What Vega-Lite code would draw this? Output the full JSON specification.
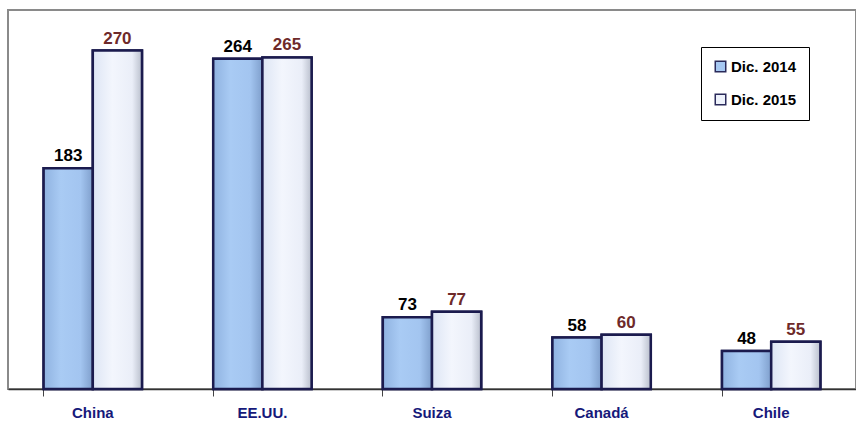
{
  "$schema": "https://vega.github.io/schema/vega-lite/v6.json",
  "width": 848,
  "height": 379,
  "autosize": {"type": "none"},
  "padding": {"left": 8, "top": 10, "right": 0, "bottom": 32},
  "background": "white",
  "config": {
    "view": {"stroke": "#8a8a8a", "strokeWidth": 2},
    "font": "Liberation Sans"
  },
  "data": {
    "values": [
      {"pais": "China", "serie": "Dic. 2014", "valor": 183},
      {"pais": "China", "serie": "Dic. 2015", "valor": 270},
      {"pais": "EE.UU.", "serie": "Dic. 2014", "valor": 264},
      {"pais": "EE.UU.", "serie": "Dic. 2015", "valor": 265},
      {"pais": "Suiza", "serie": "Dic. 2014", "valor": 73},
      {"pais": "Suiza", "serie": "Dic. 2015", "valor": 77},
      {"pais": "Canadá", "serie": "Dic. 2014", "valor": 58},
      {"pais": "Canadá", "serie": "Dic. 2015", "valor": 60},
      {"pais": "Chile", "serie": "Dic. 2014", "valor": 48},
      {"pais": "Chile", "serie": "Dic. 2015", "valor": 55}
    ]
  },
  "encoding": {
    "x": {
      "field": "pais",
      "type": "nominal",
      "sort": null,
      "scale": {"paddingInner": 0.42, "paddingOuter": 0.21},
      "axis": {
        "title": null,
        "labelAngle": 0,
        "labelFont": "Liberation Sans",
        "labelFontSize": 15,
        "labelFontWeight": "bold",
        "labelColor": "#16197a",
        "labelPadding": 9,
        "bandPosition": 0,
        "tickSize": 7,
        "tickColor": "#444444",
        "domainColor": "#333333",
        "domainWidth": 1.5
      }
    },
    "xOffset": {"field": "serie", "type": "nominal", "scale": {"paddingInner": 0, "paddingOuter": 0}},
    "y": {
      "field": "valor",
      "type": "quantitative",
      "scale": {"domain": [20, 300], "zero": false, "nice": false},
      "axis": null
    },
    "y2": {"datum": 20}
  },
  "layer": [
    {
      "mark": {"type": "bar", "stroke": "#1b1b4e", "strokeWidth": 2.5},
      "encoding": {
        "color": {
          "field": "serie",
          "type": "nominal",
          "scale": {"domain": ["Dic. 2014", "Dic. 2015"], "range": ["#a6c8f2", "#eef2fb"]},
          "legend": {
            "title": null,
            "orient": "none",
            "legendX": 693,
            "legendY": 37,
            "padding": 12,
            "strokeColor": "#000000",
            "fillColor": "white",
            "labelFont": "Liberation Sans",
            "labelFontSize": 15,
            "labelFontWeight": "bold",
            "labelColor": "#000000",
            "symbolType": "square",
            "symbolSize": 110,
            "symbolStrokeColor": "#2a2a5a",
            "symbolStrokeWidth": 1.5,
            "rowPadding": 16,
            "labelOffset": 3
          }
        }
      }
    },
    {
      "transform": [{"filter": "datum.serie == 'Dic. 2014'"}],
      "mark": {
        "type": "bar",
        "stroke": "#1b1b4e",
        "strokeWidth": 2.5,
        "color": {
          "gradient": "linear", "x1": 0, "y1": 0, "x2": 1, "y2": 0,
          "stops": [
            {"offset": 0, "color": "#8fb2e0"},
            {"offset": 0.35, "color": "#a9cbf4"},
            {"offset": 0.75, "color": "#a3c5f0"},
            {"offset": 1, "color": "#7f9fcc"}
          ]
        }
      }
    },
    {
      "transform": [{"filter": "datum.serie == 'Dic. 2015'"}],
      "mark": {
        "type": "bar",
        "stroke": "#1b1b4e",
        "strokeWidth": 2.5,
        "color": {
          "gradient": "linear", "x1": 0, "y1": 0, "x2": 1, "y2": 0,
          "stops": [
            {"offset": 0, "color": "#dde5f4"},
            {"offset": 0.4, "color": "#f3f6fd"},
            {"offset": 0.8, "color": "#eaeef8"},
            {"offset": 1, "color": "#b9bfcc"}
          ]
        }
      }
    },
    {
      "mark": {
        "type": "text",
        "baseline": "bottom",
        "dy": -3,
        "font": "Liberation Sans",
        "fontSize": 17,
        "fontWeight": "bold"
      },
      "encoding": {
        "text": {"field": "valor", "type": "quantitative"},
        "y2": null,
        "color": {
          "condition": {"test": "datum.serie == 'Dic. 2014'", "value": "#000000"},
          "value": "#6e2a2a"
        }
      }
    }
  ]
}
